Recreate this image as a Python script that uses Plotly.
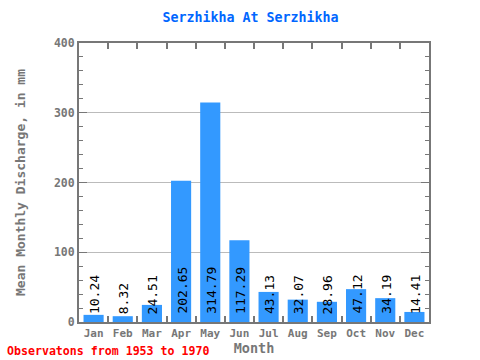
import plotly.graph_objects as go

months = ["Jan", "Feb", "Mar", "Apr", "May", "Jun", "Jul", "Aug", "Sep", "Oct", "Nov", "Dec"]
values = [10.24, 8.32, 24.51, 202.65, 314.79, 117.29, 43.13, 32.07, 28.96, 47.12, 34.19, 14.41]
value_labels = ["10.24", "8.32", "24.51", "202.65", "314.79", "117.29", "43.13", "32.07", "28.96", "47.12", "34.19", "14.41"]

mono = "DejaVu Sans Mono"
gray = "#777777"

fig = go.Figure()
fig.add_trace(go.Bar(x=months, y=values, marker=dict(color="#3399ff", line=dict(width=0)),
                     width=0.69, hoverinfo="skip"))

for m, lab in zip(months, value_labels):
    fig.add_annotation(x=m, y=0, text=lab, textangle=-90, showarrow=False,
                       xanchor="center", yanchor="bottom", yshift=6, xshift=1,
                       font=dict(family=mono, size=13, color="black"))

fig.update_layout(
    width=480, height=360,
    margin=dict(l=79, r=51, t=43, b=38, autoexpand=False),
    paper_bgcolor="white", plot_bgcolor="white",
    showlegend=False,
    title=dict(text="<b>Serzhikha At Serzhikha</b>", x=250.5 / 480, xanchor="center", y=1 - 17.7 / 360,
               yanchor="middle", font=dict(family=mono, size=13.3, color="#0066ff")),
    xaxis=dict(
        range=[-0.5, 11.5], tickson="boundaries", ticks="inside", ticklen=6, tickwidth=2, tickcolor=gray,
        showline=True, linewidth=2, linecolor=gray, mirror="ticks", tickangle=0, automargin=False,
        tickfont=dict(family=mono, size=11, color=gray, weight="bold"),
        title=dict(text="<b>Month</b>", standoff=0, font=dict(family=mono, size=13.5, color=gray)),
        showgrid=False, fixedrange=True,
    ),
    yaxis=dict(
        range=[0, 400], dtick=100, ticks="inside", ticklen=8, tickwidth=1, tickcolor=gray,
        showline=True, linewidth=2, linecolor=gray, mirror="ticks", automargin=False,
        tickfont=dict(family=mono, size=11.5, color=gray, weight="bold"),
        showgrid=True, gridcolor="#bbbbbb", gridwidth=1,
        minor=dict(dtick=20, ticks="inside", ticklen=4, tickcolor=gray, tickwidth=1, showgrid=False),
        title=dict(text="<b>Mean Monthly Discharge, in mm</b>", standoff=25,
                   font=dict(family=mono, size=13, color=gray)),
        zeroline=False, fixedrange=True,
    ),
)

fig.add_annotation(x=(5 - 79) / 350, y=-(351 - 322) / 279, xref="paper", yref="paper",
                   text="<b>Observatons from 1953 to 1970</b>",
                   showarrow=False, xanchor="left", yanchor="middle",
                   font=dict(family=mono, size=11.6, color="red"))

fig.write_html("out.html", config={"displayModeBar": False},
               post_script="document.body.style.margin='0';document.body.style.overflow='hidden';")
